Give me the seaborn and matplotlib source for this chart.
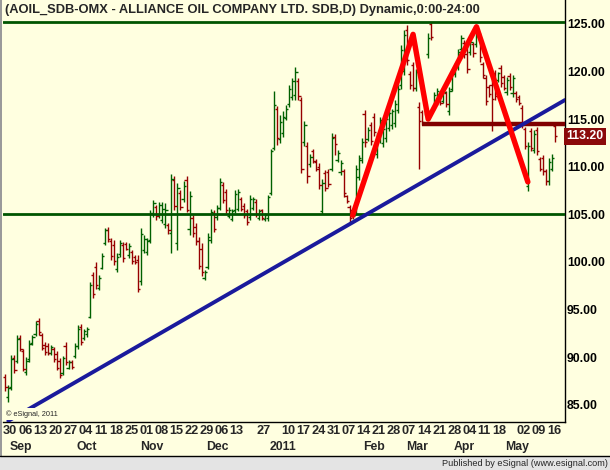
import numpy as np
import pandas as pd
import matplotlib
matplotlib.use("Agg")
import matplotlib.pyplot as plt
import seaborn as sns

# trading days (Stockholm), Aug 30 2010 - May 18 2011
holidays = ["2010-12-24", "2010-12-31", "2011-01-06", "2011-04-22", "2011-04-25"]
dates = pd.bdate_range("2010-08-30", "2011-05-18").difference(pd.to_datetime(holidays))

highs = [
    88.2, 87.1, 90.2, 90.2, 92.3, 92.3, 90.9, 90.0, 91.8, 92.3,
    93.8, 94.1, 92.5, 91.6, 91.45, 91.3, 91.1, 90.6, 89.9, 90.15,
    91.6, 89.7, 89.7, 91.45, 93.4, 93.45, 93.0, 93.2, 97.9, 98.98,
    100.0, 98.6, 100.9, 103.6, 103.7, 102.5, 102.3, 100.9, 102.3, 102.1,
    102.1, 102.0, 101.2, 100.7, 100.7, 103.6, 102.8, 102.5, 105.4, 106.5,
    106.0, 106.3, 106.3, 106.15, 104.05, 109.2, 109.0, 108.25, 107.55, 108.5,
    109.0, 107.4, 104.9, 104.05, 102.65, 101.95, 99.15, 103.0, 105.6, 105.45,
    106.0, 108.8, 108.4, 107.7, 105.8, 105.6, 107.6, 107.7, 106.85, 106.15,
    105.55, 107.0, 106.85, 106.6, 105.6, 105.6, 105.1, 107.0, 111.9, 118.0,
    116.4, 115.4, 115.8, 116.5, 118.6, 119.3, 120.5, 119.35, 117.35, 114.8,
    112.55, 111.3, 111.85, 110.8, 110.35, 108.7, 109.65, 109.75, 113.5, 113.4,
    111.75, 110.7, 109.8, 107.0, 106.0, 105.6, 110.2, 111.2, 113.0, 115.96,
    114.2, 114.7, 115.6, 113.5, 115.26, 114.4, 115.44, 115.96, 116.1, 117.0,
    118.6, 122.8, 124.4, 124.9, 120.0, 121.04, 120.3, 116.8, 115.96, 116.84,
    124.0, 125.24, 117.8, 118.3, 117.36, 118.06, 117.9, 118.4, 120.2, 120.86,
    122.4, 123.84, 123.3, 122.96, 123.5, 123.14, 124.9, 124.0, 121.04, 119.64,
    118.6, 119.1, 120.16, 119.99, 120.7, 119.64, 119.46, 119.8, 119.64, 117.9,
    117.54, 116.49, 114.2, 112.6, 114.04, 113.86, 114.2, 111.06, 111.2, 109.8,
    110.9, 111.3, 114.7]

lows = [
    86.4, 85.3, 86.55, 88.3, 89.35, 90.6, 88.5, 88.1, 89.5, 91.3,
    92.2, 92.3, 90.75, 90.2, 90.2, 90.2, 89.5, 88.65, 87.85, 88.1,
    89.2, 88.8, 88.8, 89.9, 90.9, 91.3, 91.8, 92.15, 94.15, 96.2,
    97.2, 97.05, 99.2, 101.8, 102.1, 100.2, 99.7, 98.9, 100.5, 100.0,
    101.2, 100.4, 99.8, 99.8, 96.8, 97.6, 100.9, 100.7, 102.0, 104.75,
    104.4, 104.6, 104.05, 103.6, 102.9, 100.9, 105.45, 101.25, 105.45, 106.3,
    105.2, 102.8, 102.65, 101.8, 99.2, 98.5, 98.1, 99.2, 101.95, 103.1,
    104.4, 105.45, 106.15, 105.1, 104.6, 104.3, 105.1, 105.3, 105.3, 104.65,
    103.9, 104.4, 105.45, 104.75, 104.4, 104.4, 104.3, 104.3, 107.0, 111.75,
    112.3, 112.45, 113.15, 114.9, 116.3, 117.0, 117.0, 117.0, 109.3, 112.2,
    108.25, 110.0, 110.35, 109.5, 107.65, 105.0, 107.45, 107.9, 109.5, 111.2,
    110.5, 109.1, 106.85, 106.15, 104.2, 104.5, 104.9, 108.6, 110.4, 112.1,
    112.65, 112.3, 113.2, 110.9, 112.5, 112.1, 112.6, 113.7, 114.0, 114.2,
    115.6, 118.2, 119.6, 120.7, 118.2, 117.9, 117.9, 109.8, 114.4, 115.4,
    121.4, 123.3, 116.0, 116.5, 116.49, 116.66, 116.3, 115.4, 117.9, 119.46,
    120.2, 122.1, 121.4, 119.8, 121.74, 121.56, 122.6, 121.04, 119.3, 116.5,
    117.36, 113.7, 117.0, 118.94, 118.41, 118.06, 117.54, 118.06, 117.36, 116.84,
    116.49, 114.04, 111.9, 107.4, 111.6, 111.4, 111.2, 109.5, 109.1, 108.1,
    108.1, 109.5, 112.6]

opens = [
    87.9, 85.8, 86.9, 89.9, 89.6, 92.0, 90.6, 88.4, 89.8, 91.5,
    92.4, 93.8, 92.3, 91.3, 91.2, 90.4, 90.9, 90.3, 89.6, 88.3,
    91.2, 88.9, 89.5, 90.1, 91.2, 93.2, 92.0, 92.4, 94.2, 98.6,
    99.5, 97.3, 99.4, 102.0, 103.4, 102.2, 101.8, 99.2, 100.8, 101.8,
    101.9, 100.7, 101.0, 100.5, 100.2, 98.0, 101.2, 101.0, 102.3, 105.0,
    105.8, 104.9, 104.4, 104.0, 103.9, 103.0, 108.6, 102.0, 107.2, 106.6,
    108.6, 103.5, 104.6, 103.7, 102.2, 101.4, 98.3, 99.5, 102.3, 105.1,
    104.7, 105.7, 108.1, 107.3, 104.8, 104.5, 105.4, 105.6, 106.6, 105.9,
    105.3, 104.7, 105.7, 106.3, 104.6, 105.4, 104.5, 104.6, 107.2, 112.0,
    116.1, 112.9, 113.5, 115.1, 116.6, 117.3, 117.5, 119.0, 117.0, 112.6,
    112.2, 110.3, 111.6, 110.5, 110.0, 105.3, 109.3, 109.4, 109.8, 113.1,
    110.7, 109.4, 109.5, 106.9, 105.8, 105.4, 105.2, 108.9, 110.7, 115.5,
    112.9, 114.4, 115.2, 111.3, 112.9, 112.5, 113.0, 114.1, 114.4, 114.6,
    116.0, 118.6, 120.0, 124.4, 119.7, 120.7, 118.3, 116.3, 115.7, 116.6,
    121.8, 125.0, 116.3, 116.8, 117.2, 116.9, 117.7, 115.8, 118.2, 119.7,
    120.5, 122.4, 123.0, 122.6, 122.0, 122.9, 122.9, 123.6, 120.8, 119.3,
    118.4, 118.6, 119.8, 119.1, 120.4, 119.4, 117.8, 119.5, 117.7, 117.7,
    117.3, 116.2, 114.0, 108.0, 113.7, 111.8, 113.9, 110.8, 110.9, 109.5,
    108.5, 109.8, 114.3]

closes = [
    86.9, 86.8, 89.8, 88.6, 91.9, 90.9, 88.8, 89.6, 91.4, 92.1,
    93.5, 92.6, 91.0, 90.5, 90.4, 91.1, 89.8, 88.9, 88.1, 89.9,
    89.5, 89.5, 89.0, 91.2, 93.0, 91.6, 92.7, 93.0, 97.6, 96.6,
    97.6, 98.3, 100.6, 103.3, 102.4, 100.6, 100.1, 100.5, 102.0, 100.4,
    101.4, 101.7, 100.1, 100.0, 97.2, 102.9, 102.4, 102.2, 105.1, 106.2,
    104.8, 106.0, 105.6, 105.4, 103.3, 108.7, 105.9, 107.8, 105.8, 108.0,
    105.5, 106.9, 103.0, 102.2, 99.6, 98.9, 98.9, 102.6, 105.2, 103.5,
    105.7, 108.4, 106.5, 105.5, 105.5, 105.3, 107.1, 107.3, 105.6, 104.9,
    104.2, 106.6, 106.6, 105.0, 105.3, 104.6, 104.9, 106.8, 111.6, 116.5,
    113.0, 114.7, 115.2, 116.1, 118.2, 119.0, 119.9, 117.4, 109.8, 114.4,
    109.0, 111.0, 110.6, 109.8, 108.1, 108.3, 107.8, 108.2, 113.0, 112.4,
    111.4, 110.4, 107.2, 106.4, 104.6, 104.8, 109.8, 110.9, 112.6, 112.6,
    113.9, 112.7, 113.6, 113.1, 114.9, 114.0, 115.0, 115.6, 115.8, 116.6,
    118.2, 122.3, 123.8, 121.2, 118.6, 118.3, 119.9, 114.8, 114.7, 115.7,
    123.5, 123.6, 117.5, 118.0, 116.7, 117.8, 116.6, 118.0, 119.8, 120.5,
    122.0, 123.5, 121.8, 120.3, 123.1, 121.9, 124.4, 121.5, 119.6, 116.9,
    117.6, 117.1, 117.4, 119.8, 118.8, 118.3, 119.1, 118.4, 119.3, 117.1,
    116.7, 114.4, 112.2, 112.2, 112.0, 113.4, 111.6, 109.8, 109.5, 108.5,
    110.5, 110.9, 113.2]

# drawn studies
support_level = 105.0
resistance_level = 125.2
neckline_level = 114.5
neckline_start = "2011-03-15"
trend_dates = ["2010-08-31", "2011-05-18"]
trend_prices = [83.3, 116.4]
zigzag_dates = ["2011-02-10", "2011-03-10", "2011-03-17", "2011-04-08", "2011-05-05"]
zigzag_prices = [104.9, 123.9, 115.0, 124.7, 108.4]

week_ticks = ["2010-08-30", "2010-09-06", "2010-09-13", "2010-09-20", "2010-09-27",
              "2010-10-04", "2010-10-11", "2010-10-18", "2010-10-25", "2010-11-01",
              "2010-11-08", "2010-11-15", "2010-11-22", "2010-11-29", "2010-12-06",
              "2010-12-13", "2010-12-27", "2011-01-10", "2011-01-17", "2011-01-24",
              "2011-01-31", "2011-02-07", "2011-02-14", "2011-02-21", "2011-02-28",
              "2011-03-07", "2011-03-14", "2011-03-21", "2011-03-28", "2011-04-04",
              "2011-04-11", "2011-04-18", "2011-05-02", "2011-05-09", "2011-05-16"]
month_ticks = ["2010-09-01", "2010-10-01", "2010-11-01", "2010-12-01", "2011-01-03",
               "2011-02-16", "2011-03-08", "2011-03-30", "2011-04-26"]
month_labels = ["Sep", "Oct", "Nov", "Dec", "2011", "Feb", "Mar", "Apr", "May"]

df = pd.DataFrame({"date": dates, "open": opens, "high": highs, "low": lows, "close": closes})
df["i"] = np.arange(len(df))
pos = pd.Series(df["i"].values, index=df["date"])

bg = "#ffffe0"
green = "#006000"
red = "#960000"

sns.set_style("white", {"axes.facecolor": bg, "figure.facecolor": bg})
plt.rcParams["font.family"] = ["Liberation Sans", "DejaVu Sans"]

fig = plt.figure(figsize=(6.1, 4.7), dpi=100)
ax = fig.add_axes([3 / 610, 48 / 470, 562 / 610, 422 / 470])
ax.set_facecolor(bg)

up = df["close"] >= df["open"]
cols = np.where(up, green, red)
ax.vlines(df["i"], df["low"], df["high"], colors=cols, lw=1.0)
ax.hlines(df["open"], df["i"] - 0.75, df["i"], colors=cols, lw=1.0)
ax.hlines(df["close"], df["i"], df["i"] + 0.75, colors=cols, lw=1.0)

xmin, xmax = -0.76, 185.3
ax.set_xlim(xmin, xmax)
ax.set_ylim(83.18, 127.51)

ax.axhline(support_level, color="#005500", lw=2.0, zorder=3)
ax.axhline(resistance_level, color="#005500", lw=2.0, zorder=3)
ax.hlines(neckline_level, pos[pd.Timestamp(neckline_start)], xmax, color="#800000", lw=3.2, zorder=4)

tx = [pos[pd.Timestamp(d)] for d in trend_dates]
slope = (trend_prices[1] - trend_prices[0]) / (tx[1] - tx[0])
line_x = [tx[0], xmax]
line_y = [trend_prices[0], trend_prices[0] + slope * (xmax - tx[0])]
sns.lineplot(x=line_x, y=line_y, ax=ax, color="#1a1a9c", lw=2.8, sort=False, zorder=5)

zx = [pos[pd.Timestamp(d)] for d in zigzag_dates]
sns.lineplot(x=zx, y=zigzag_prices, ax=ax, color="#ff0000", lw=3.9, sort=False, zorder=6)

# axes styling
for s in ["left", "top"]:
    ax.spines[s].set_visible(False)
ax.spines["right"].set_color("black")
ax.spines["bottom"].set_color("black")
ax.spines["right"].set_linewidth(1.0)
ax.spines["bottom"].set_linewidth(1.0)

ax.yaxis.tick_right()
ax.set_yticks(np.arange(85, 126, 5))
ax.set_yticklabels([f"{v:.2f}" for v in np.arange(85, 126, 5)])
ax.tick_params(axis="y", length=0, pad=1.5, labelsize=8.8, labelcolor="black")
for t in ax.get_yticklabels():
    t.set_fontweight("bold")

wk = [pos[pd.Timestamp(d)] for d in week_ticks]
ax.set_xticks(wk)
ax.set_xticklabels([])
ax.tick_params(axis="x", length=2.2, width=1, direction="out", color="black")
trans = ax.get_xaxis_transform()
for d, x in zip(week_ticks, wk):
    ax.text(x - 0.7, -0.022, f"{pd.Timestamp(d).day:02d}", transform=trans, ha="left",
            va="center", fontsize=9.2, fontweight="bold")
for d, lab in zip(month_ticks, month_labels):
    ax.text(pos[pd.Timestamp(d)] - 0.4, -0.059, lab, transform=trans, ha="left", va="center",
            fontsize=8.8, fontweight="bold")

ax.text(0.004, 0.977, "(AOIL_SDB-OMX - ALLIANCE OIL COMPANY LTD. SDB,D) Dynamic,0:00-24:00",
        transform=ax.transAxes, ha="left", va="center", fontsize=9.3, fontweight="bold", zorder=10)
ax.text(0.006, 0.019, "\u00a9 eSignal, 2011", transform=ax.transAxes, ha="left", va="center",
        fontsize=5.3, zorder=10,
        bbox=dict(boxstyle="square,pad=0.35", fc=bg, ec="none"))

last = df["close"].iloc[-1]
ax.text(1.003, last, f"{last:.2f}", transform=ax.get_yaxis_transform(), ha="left", va="center",
        fontsize=8.8, fontweight="bold", color="white",
        bbox=dict(boxstyle="square,pad=0.22", fc="#8b0a0a", ec="none"), clip_on=False)

# bottom status strip and frame
fig.patches.append(plt.Rectangle((0, 0), 1, 14 / 470, transform=fig.transFigure,
                                 fc="#e4e4e4", ec="none", zorder=0))
fig.lines.append(plt.Line2D([0, 1], [14 / 470, 14 / 470], transform=fig.transFigure,
                            color="black", lw=1.0))
fig.patches.append(plt.Rectangle((0, 14 / 470), 2 / 610, 456 / 470, transform=fig.transFigure,
                                 fc="#9a9a9a", ec="none"))
fig.text(608 / 610, 7 / 470, "Published by eSignal (www.esignal.com)", ha="right", va="center",
         fontsize=6.6)

fig.savefig("out.png", dpi=100, facecolor=bg)
